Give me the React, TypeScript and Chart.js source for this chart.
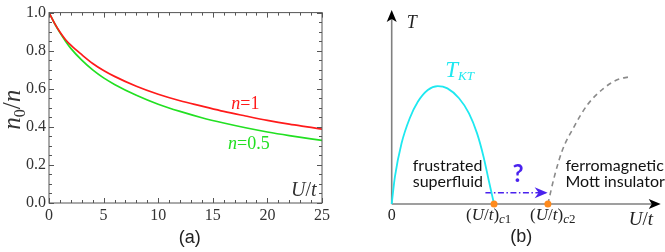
import React, { useEffect, useRef } from "react";
import { Chart, registerables } from "chart.js";
Chart.register(...registerables);

// ---------- Panel (a): condensate fraction n0/n versus U/t ----------
const uValues = [0, 0.5, 1, 1.5, 2, 3, 4, 5, 6, 8, 10, 12, 14, 16, 18, 20, 22, 24, 25];
const condensateN1 = [1, 0.945, 0.898, 0.859, 0.829, 0.779, 0.733, 0.696, 0.665, 0.613, 0.571, 0.537, 0.509, 0.481, 0.457, 0.434, 0.414, 0.397, 0.388];
const condensateNHalf = [1, 0.944, 0.895, 0.851, 0.812, 0.75, 0.699, 0.657, 0.623, 0.566, 0.519, 0.481, 0.448, 0.42, 0.395, 0.373, 0.354, 0.337, 0.329];
const fillingLabels = ["1", "0.5"];
const xRange = [0, 25];
const yRange = [0, 1];
const xTickStep = 5;
const xMinorStep = 1;
const yTickStep = 0.2;
const yMinorStep = 0.05;

// ---------- Panel (b): schematic phase diagram ----------
const tktU = [0, 0.12, 0.366, 0.67, 0.97, 1.34, 1.71, 2.07, 2.5, 2.87, 3.17, 3.41, 3.6, 3.8];
const tktT = [0, 1.41, 3.13, 4.42, 5.27, 5.88, 6.08, 5.96, 5.45, 4.67, 3.64, 2.44, 1.24, 0];
const mottU = [5.8, 6.04, 6.34, 6.77, 7.26, 7.87, 8.35, 8.84];
const mottT = [0, 1.41, 2.78, 3.98, 5.1, 5.96, 6.39, 6.56];
const criticalU = [3.8, 5.8];
const criticalLabels = ["c1", "c2"];
const arrowU = [3.48, 5.79];
const arrowT = [0.58, 0.58];

const SERIF = '"Liberation Serif", "DejaVu Serif", serif';
const SANS = 'Lato, "Liberation Sans", sans-serif';
const ARIAL = '"Liberation Sans", Arial, sans-serif';

const RED = "#ff1a1a";
const GREEN = "#22e022";
const CYAN = "#1ee8f0";
const ORANGE = "#ff8a1c";
const VIOLET = "#4a22ee";

type Run = { t: string; f: string; dy?: number };
function drawRuns(ctx: CanvasRenderingContext2D, runs: Run[], x: number, y: number, align: "left" | "center" | "right" = "left") {
  let w = 0;
  for (const r of runs) {
    ctx.font = r.f;
    w += ctx.measureText(r.t).width;
  }
  let cx = align === "left" ? x : align === "center" ? x - w / 2 : x - w;
  ctx.textAlign = "left";
  ctx.textBaseline = "alphabetic";
  for (const r of runs) {
    ctx.font = r.f;
    ctx.fillText(r.t, cx, y + (r.dy || 0));
    cx += ctx.measureText(r.t).width;
  }
}

function stealth(ctx: CanvasRenderingContext2D, tipX: number, tipY: number, dirX: number, dirY: number, len: number, half: number, notch: number, color: string) {
  const px = -dirY, py = dirX;
  const bx = tipX - dirX * len, by = tipY - dirY * len;
  ctx.beginPath();
  ctx.moveTo(tipX, tipY);
  ctx.lineTo(bx + px * half, by + py * half);
  ctx.lineTo(tipX - dirX * (len - notch), tipY - dirY * (len - notch));
  ctx.lineTo(bx - px * half, by - py * half);
  ctx.closePath();
  ctx.fillStyle = color;
  ctx.fill();
}

const frameTicksPlugin = {
  id: "frameTicks",
  afterDatasetsDraw(chart: any) {
    const { ctx, chartArea: a, scales } = chart;
    const x = scales.x, y = scales.y;
    ctx.save();
    ctx.strokeStyle = "#555";
    ctx.lineWidth = 1;
    ctx.strokeRect(a.left, a.top, a.right - a.left, a.bottom - a.top);
    ctx.beginPath();
    const nx = Math.round((xRange[1] - xRange[0]) / xMinorStep);
    for (let k = 0; k <= nx; k++) {
      const v = xRange[0] + k * xMinorStep;
      const px = Math.round(x.getPixelForValue(v)) + 0.5;
      const major = Math.abs(v / xTickStep - Math.round(v / xTickStep)) < 1e-6;
      const len = major ? 5 : 3;
      ctx.moveTo(px, a.bottom);
      ctx.lineTo(px, a.bottom - len);
      ctx.moveTo(px, a.top);
      ctx.lineTo(px, a.top + len);
    }
    const ny = Math.round((yRange[1] - yRange[0]) / yMinorStep);
    for (let k = 0; k <= ny; k++) {
      const v = yRange[0] + k * yMinorStep;
      const py = Math.round(y.getPixelForValue(v)) + 0.5;
      const major = Math.abs(v / yTickStep - Math.round(v / yTickStep)) < 1e-6;
      const len = major ? 5 : 3;
      ctx.moveTo(a.left, py);
      ctx.lineTo(a.left + len, py);
      ctx.moveTo(a.right, py);
      ctx.lineTo(a.right - len, py);
    }
    ctx.stroke();
    ctx.restore();
  },
  afterDraw(chart: any) {
    const { ctx, chartArea: a, scales } = chart;
    const x = scales.x, y = scales.y;
    ctx.save();
    // y axis title n0/n
    ctx.fillStyle = "#333";
    ctx.save();
    ctx.translate(20, (a.top + a.bottom) / 2 + 2);
    ctx.rotate(-Math.PI / 2);
    drawRuns(ctx, [
      { t: "n", f: `italic 25px ${SERIF}` },
      { t: "0", f: `16px ${SERIF}`, dy: 5 },
      { t: "/", f: `25px ${SERIF}` },
      { t: "n", f: `italic 25px ${SERIF}` },
    ], 0, 0, "center");
    ctx.restore();
    // series labels
    ctx.fillStyle = RED;
    drawRuns(ctx, [
      { t: "n", f: `italic 18px ${SERIF}` },
      { t: "=" + fillingLabels[0], f: `18px ${SERIF}` },
    ], x.getPixelForValue(16.7), y.getPixelForValue(0.492));
    ctx.fillStyle = GREEN;
    drawRuns(ctx, [
      { t: "n", f: `italic 18px ${SERIF}` },
      { t: "=" + fillingLabels[1], f: `18px ${SERIF}` },
    ], x.getPixelForValue(16.4), y.getPixelForValue(0.283));
    // U/t
    ctx.fillStyle = "#333";
    drawRuns(ctx, [
      { t: "U", f: `italic 20px ${SERIF}` },
      { t: "/", f: `20px ${SERIF}` },
      { t: "t", f: `italic 20px ${SERIF}` },
    ], x.getPixelForValue(24.5), y.getPixelForValue(0.035), "right");
    // (a)
    ctx.fillStyle = "#222";
    drawRuns(ctx, [{ t: "(a)", f: `18px ${ARIAL}` }], x.getPixelForValue(12.9), a.bottom + 40, "center");
    ctx.restore();
  },
};

const phasePlugin = {
  id: "phaseAxes",
  beforeDatasetsDraw(chart: any) {
    const { ctx, scales } = chart;
    const x = scales.x, y = scales.y;
    const ox = x.getPixelForValue(0), oy = y.getPixelForValue(0);
    const xTip = x.getPixelForValue(9.99), yTip = y.getPixelForValue(10);
    ctx.save();
    ctx.strokeStyle = "#808080";
    ctx.lineWidth = 1.6;
    ctx.beginPath();
    ctx.moveTo(ox, oy);
    ctx.lineTo(xTip - 8, oy);
    ctx.moveTo(ox, oy);
    ctx.lineTo(ox, yTip + 8);
    ctx.stroke();
    stealth(ctx, xTip, oy, 1, 0, 12, 5, 3, "#000");
    stealth(ctx, ox, yTip, 0, -1, 12, 5, 3, "#000");
    ctx.restore();
  },
  afterDatasetsDraw(chart: any) {
    const { ctx, scales } = chart;
    const x = scales.x, y = scales.y;
    ctx.save();
    // arrow head of the dash-dot arrow
    stealth(ctx, x.getPixelForValue(arrowU[1]), y.getPixelForValue(arrowT[1]), 1, 0, 13, 5.5, 4, VIOLET);
    // labels
    ctx.fillStyle = "#222";
    drawRuns(ctx, [{ t: "T", f: `italic 18px ${SERIF}` }], x.getPixelForValue(0.56), y.getPixelForValue(9.07));
    ctx.fillStyle = CYAN;
    drawRuns(ctx, [
      { t: "T", f: `italic 23px ${SERIF}` },
      { t: "KT", f: `italic 13px ${SERIF}`, dy: 3 },
    ], x.getPixelForValue(1.99), y.getPixelForValue(6.55));
    ctx.fillStyle = "#111";
    drawRuns(ctx, [{ t: "frustrated", f: `16px ${SANS}` }], x.getPixelForValue(0.78), y.getPixelForValue(1.7));
    drawRuns(ctx, [{ t: "superfluid", f: `16px ${SANS}` }], x.getPixelForValue(0.78), y.getPixelForValue(0.86));
    drawRuns(ctx, [{ t: "ferromagnetic", f: `16px ${SANS}` }], x.getPixelForValue(6.45), y.getPixelForValue(1.7));
    drawRuns(ctx, [{ t: "Mott insulator", f: `16px ${SANS}` }], x.getPixelForValue(6.45), y.getPixelForValue(0.86));
    ctx.fillStyle = VIOLET;
    drawRuns(ctx, [{ t: "?", f: `bold 24px ${SANS}` }], x.getPixelForValue(4.69), y.getPixelForValue(1.13), "center");
    ctx.fillStyle = "#222";
    drawRuns(ctx, [{ t: "0", f: `16px ${SERIF}` }], x.getPixelForValue(0), y.getPixelForValue(-0.82), "center");
    const labelLeft = [2.76, 5.14];
    criticalLabels.forEach((lab, i) => {
      drawRuns(ctx, [
        { t: "(", f: `17px ${SERIF}` },
        { t: "U", f: `italic 17px ${SERIF}` },
        { t: "/", f: `17px ${SERIF}` },
        { t: "t", f: `italic 17px ${SERIF}` },
        { t: ")", f: `17px ${SERIF}` },
        { t: lab[0], f: `italic 13px ${SERIF}`, dy: 3 },
        { t: lab.slice(1), f: `13px ${SERIF}`, dy: 3 },
      ], x.getPixelForValue(labelLeft[i]), y.getPixelForValue(-0.82));
    });
    drawRuns(ctx, [
      { t: "U", f: `italic 19px ${SERIF}` },
      { t: "/", f: `19px ${SERIF}` },
      { t: "t", f: `italic 19px ${SERIF}` },
    ], x.getPixelForValue(8.8), y.getPixelForValue(-1.08));
    drawRuns(ctx, [{ t: "(b)", f: `18px ${ARIAL}` }], x.getPixelForValue(4.81), y.getPixelForValue(-1.96), "center");
    ctx.restore();
  },
};

export default function App() {
  const refA = useRef<HTMLCanvasElement>(null);
  const refB = useRef<HTMLCanvasElement>(null);

  useEffect(() => {
    const tickFont = { family: SERIF, size: 16 };
    const chartA = new Chart(refA.current as HTMLCanvasElement, {
      type: "line",
      data: {
        datasets: [
          {
            data: uValues.map((u, i) => ({ x: u, y: condensateN1[i] })),
            borderColor: RED,
            borderWidth: 1.7,
            pointRadius: 0,
            cubicInterpolationMode: "monotone",
          },
          {
            data: uValues.map((u, i) => ({ x: u, y: condensateNHalf[i] })),
            borderColor: GREEN,
            borderWidth: 1.7,
            pointRadius: 0,
            cubicInterpolationMode: "monotone",
          },
        ],
      },
      options: {
        animation: false,
        responsive: false,
        layout: { padding: { left: 0, top: 10, right: 18, bottom: 0 } },
        plugins: { legend: { display: false }, tooltip: { enabled: false } },
        scales: {
          x: {
            type: "linear",
            min: xRange[0],
            max: xRange[1],
            grid: { display: false, drawTicks: false },
            border: { display: false },
            ticks: { stepSize: xTickStep, font: tickFont, color: "#333", padding: 3, maxRotation: 0 },
            afterFit: (s: any) => { s.height = 49; },
          },
          y: {
            type: "linear",
            min: yRange[0],
            max: yRange[1],
            grid: { display: false, drawTicks: false },
            border: { display: false },
            ticks: { stepSize: yTickStep, font: tickFont, color: "#333", padding: 3, callback: (v: any) => Number(v).toFixed(1) },
            afterFit: (s: any) => { s.width = 49; },
          },
        },
      } as any,
      plugins: [frameTicksPlugin],
    });

    const chartB = new Chart(refB.current as HTMLCanvasElement, {
      type: "line",
      data: {
        datasets: [
          {
            data: criticalU.map((u) => ({ x: u, y: 0 })),
            showLine: false,
            pointRadius: 3.5,
            pointBackgroundColor: ORANGE,
            pointBorderWidth: 0,
            borderColor: ORANGE,
            clip: false,
            order: 0,
          },
          {
            data: tktU.map((u, i) => ({ x: u, y: tktT[i] })),
            borderColor: CYAN,
            borderWidth: 1.8,
            pointRadius: 0,
            cubicInterpolationMode: "monotone",
            clip: false,
            order: 1,
          },
          {
            data: mottU.map((u, i) => ({ x: u, y: mottT[i] })),
            borderColor: "#8a8a8a",
            borderWidth: 1.6,
            borderDash: [5, 4],
            pointRadius: 0,
            cubicInterpolationMode: "monotone",
            clip: false,
            order: 2,
          },
          {
            data: arrowU.map((u, i) => ({ x: u, y: arrowT[i] })),
            borderColor: VIOLET,
            borderWidth: 1.6,
            borderDash: [6, 2.5, 1.5, 2.5],
            pointRadius: 0,
            clip: false,
            order: 3,
          },
        ],
      },
      options: {
        animation: false,
        responsive: false,
        layout: { padding: { left: 51.7, top: 10, right: 0, bottom: 48 } },
        plugins: { legend: { display: false }, tooltip: { enabled: false } },
        scales: {
          x: { type: "linear", min: 0, max: 10, display: false },
          y: { type: "linear", min: 0, max: 10, display: false },
        },
      } as any,
      plugins: [phasePlugin],
    });

    return () => {
      chartA.destroy();
      chartB.destroy();
    };
  }, []);

  return (
    <div style={{ position: "fixed", left: 0, top: 0, width: 665, height: 252, background: "#fff", overflow: "hidden" }}>
      <canvas ref={refA} width={340} height={252} style={{ position: "absolute", left: 0, top: 0, width: 340, height: 252 }} />
      <canvas ref={refB} width={325} height={252} style={{ position: "absolute", left: 340, top: 0, width: 325, height: 252 }} />
    </div>
  );
}
